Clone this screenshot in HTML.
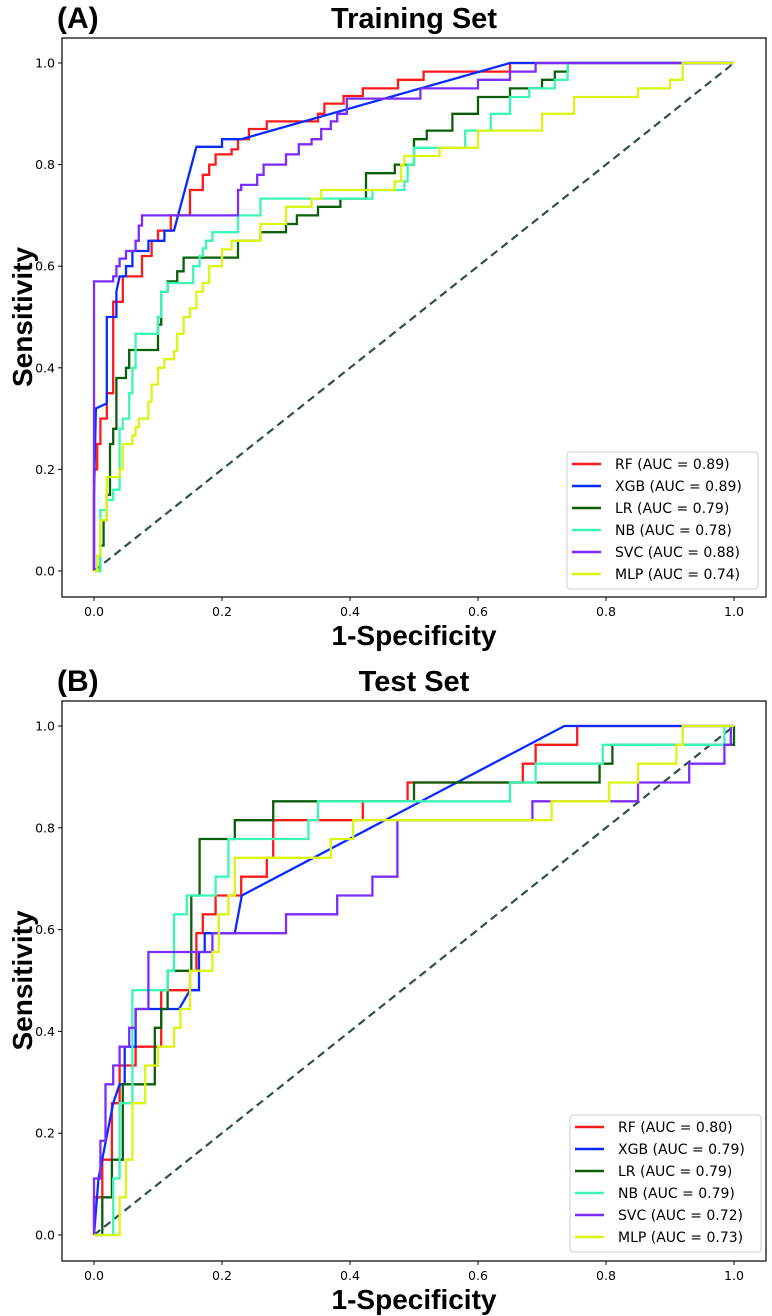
<!DOCTYPE html>
<html><head><meta charset="utf-8">
<style>
html,body{margin:0;padding:0;background:#fff;}
svg{display:block;font-family:"DejaVu Sans","Liberation Sans",sans-serif;}
</style></head>
<body>
<svg id="fig" width="772" height="1316" viewBox="0 0 772 1316" xmlns="http://www.w3.org/2000/svg"></svg>
<script>
// ---------- data ----------
const xTicks = [0.0, 0.2, 0.4, 0.6, 0.8, 1.0];
const yTicks = [0.0, 0.2, 0.4, 0.6, 0.8, 1.0];
const modelNames = ["RF", "XGB", "LR", "NB", "SVC", "MLP"];
const modelColors = ["#ff1a1a", "#0a2bff", "#0b5f0b", "#3cf7b4", "#7b2cff", "#daf514"];
const trainAUC = ["0.89", "0.89", "0.79", "0.78", "0.88", "0.74"];
const testAUC = ["0.80", "0.79", "0.79", "0.79", "0.72", "0.73"];

// training set ROC: step points [fpr, tpr] (horizontal then vertical), XGB as polyline
const trainRF = [[0,0.2],[0.005,0.25],[0.01,0.3],[0.02,0.35],[0.03,0.53],[0.045,0.58],[0.075,0.62],[0.09,0.65],[0.1,0.67],[0.12,0.7],[0.15,0.75],[0.17,0.78],[0.18,0.8],[0.19,0.82],[0.215,0.83],[0.225,0.85],[0.242,0.87],[0.27,0.885],[0.35,0.9],[0.36,0.92],[0.39,0.935],[0.42,0.95],[0.475,0.967],[0.515,0.983],[0.65,1],[1,1]];
const trainXGB = [[0,0],[0,0.15],[0.003,0.32],[0.02,0.33],[0.02,0.5],[0.035,0.5],[0.035,0.55],[0.04,0.58],[0.05,0.58],[0.05,0.6],[0.06,0.6],[0.06,0.63],[0.085,0.63],[0.085,0.65],[0.11,0.65],[0.11,0.67],[0.125,0.67],[0.16,0.835],[0.2,0.835],[0.2,0.85],[0.23,0.85],[0.65,1],[1,1]];
const trainLR = [[0.01,0.05],[0.015,0.1],[0.02,0.15],[0.025,0.25],[0.03,0.28],[0.035,0.38],[0.05,0.4],[0.055,0.435],[0.1,0.485],[0.105,0.55],[0.115,0.57],[0.13,0.59],[0.14,0.617],[0.225,0.65],[0.26,0.667],[0.3,0.683],[0.317,0.7],[0.35,0.717],[0.385,0.733],[0.425,0.783],[0.47,0.8],[0.5,0.85],[0.52,0.867],[0.56,0.9],[0.6,0.933],[0.65,0.95],[0.7,0.967],[0.72,0.983],[0.74,1],[1,1]];
const trainNB = [[0.01,0.12],[0.02,0.14],[0.03,0.16],[0.04,0.28],[0.045,0.3],[0.055,0.35],[0.06,0.4],[0.065,0.467],[0.1,0.5],[0.105,0.55],[0.115,0.567],[0.155,0.6],[0.165,0.62],[0.17,0.635],[0.175,0.65],[0.185,0.667],[0.225,0.7],[0.26,0.733],[0.435,0.75],[0.485,0.767],[0.49,0.8],[0.5,0.833],[0.58,0.867],[0.62,0.9],[0.65,0.933],[0.68,0.95],[0.72,0.967],[0.74,1],[1,1]];
const trainSVC = [[0,0.57],[0.03,0.58],[0.035,0.6],[0.04,0.615],[0.05,0.63],[0.065,0.65],[0.07,0.68],[0.075,0.7],[0.225,0.75],[0.23,0.76],[0.255,0.78],[0.265,0.8],[0.3,0.82],[0.32,0.84],[0.34,0.85],[0.355,0.87],[0.37,0.885],[0.38,0.9],[0.395,0.93],[0.51,0.95],[0.6,0.967],[0.65,0.983],[0.69,1],[1,1]];
const trainMLP = [[0.005,0.03],[0.01,0.1],[0.02,0.185],[0.04,0.2],[0.045,0.25],[0.06,0.267],[0.065,0.283],[0.07,0.3],[0.085,0.333],[0.09,0.367],[0.1,0.4],[0.11,0.417],[0.125,0.433],[0.13,0.467],[0.14,0.5],[0.15,0.517],[0.16,0.55],[0.17,0.567],[0.18,0.6],[0.2,0.633],[0.215,0.65],[0.26,0.683],[0.3,0.717],[0.34,0.733],[0.355,0.75],[0.47,0.767],[0.48,0.8],[0.485,0.817],[0.54,0.833],[0.6,0.867],[0.7,0.9],[0.75,0.933],[0.85,0.95],[0.9,0.967],[0.92,1],[1,1]];

// test set ROC
const testRF = [[0,0.074],[0.013,0.148],[0.028,0.259],[0.04,0.333],[0.065,0.37],[0.105,0.481],[0.15,0.519],[0.16,0.593],[0.17,0.63],[0.19,0.667],[0.23,0.704],[0.27,0.741],[0.28,0.815],[0.42,0.852],[0.49,0.889],[0.67,0.926],[0.69,0.963],[0.755,1],[1,1]];
const testXGB = [[0,0],[0.007,0.111],[0.03,0.259],[0.04,0.296],[0.048,0.296],[0.048,0.37],[0.065,0.37],[0.065,0.444],[0.133,0.444],[0.15,0.481],[0.164,0.481],[0.164,0.556],[0.173,0.556],[0.173,0.593],[0.22,0.593],[0.231,0.667],[0.735,1],[1,1]];
const testLR = [[0.013,0.074],[0.028,0.148],[0.045,0.296],[0.095,0.407],[0.105,0.444],[0.115,0.519],[0.152,0.667],[0.165,0.778],[0.22,0.815],[0.28,0.852],[0.5,0.889],[0.79,0.926],[0.81,0.963],[1,1]];
const testNB = [[0.03,0.111],[0.04,0.259],[0.06,0.481],[0.115,0.519],[0.125,0.63],[0.145,0.667],[0.19,0.704],[0.21,0.778],[0.335,0.815],[0.35,0.852],[0.65,0.889],[0.69,0.926],[0.795,0.963],[0.985,1],[1,1]];
const testSVC = [[0,0.111],[0.01,0.185],[0.018,0.296],[0.03,0.333],[0.04,0.37],[0.055,0.407],[0.065,0.444],[0.085,0.556],[0.185,0.593],[0.3,0.63],[0.38,0.667],[0.435,0.704],[0.474,0.815],[0.685,0.852],[0.85,0.889],[0.93,0.926],[0.985,0.963],[0.995,1],[1,1]];
const testMLP = [[0.04,0.074],[0.05,0.148],[0.06,0.259],[0.08,0.333],[0.1,0.37],[0.125,0.407],[0.135,0.444],[0.15,0.519],[0.185,0.556],[0.195,0.63],[0.21,0.667],[0.22,0.741],[0.37,0.778],[0.405,0.815],[0.715,0.852],[0.805,0.889],[0.85,0.926],[0.91,0.963],[0.92,1],[1,1]];

// ---------- drawing ----------
const NS = "http://www.w3.org/2000/svg";
const svg = document.getElementById("fig");
function mk(tag, attrs, parent, text) {
  const e = document.createElementNS(NS, tag);
  for (const k in attrs) e.setAttribute(k, attrs[k]);
  if (text !== undefined) e.textContent = text;
  (parent || svg).appendChild(e);
  return e;
}

function panel(cfg) {
  const g = mk("g", {});
  
  
  const X = f => cfg.x0 + (cfg.x1 - cfg.x0) * f;
  const Y = t => cfg.y0 + (cfg.y1 - cfg.y0) * t;
  const fr = mk("rect", {x: cfg.fl, y: cfg.ft, width: cfg.fr - cfg.fl, height: cfg.fb - cfg.ft, fill: "#fff", stroke: "#000", "stroke-width": 1.2}, g);
  
  
  xTicks.forEach(v => {
    const t = mk("line", {x1: X(v), x2: X(v), y1: cfg.fb, y2: cfg.fb + 4, stroke: "#000", "stroke-width": 1}, g);
    
    
    const l = mk("text", {x: X(v), y: cfg.fb + 19, "text-anchor": "middle", "font-size": 12.5, fill: "#000"}, g, v.toFixed(1));
    
    
  });
  yTicks.forEach(v => {
    const t = mk("line", {x1: cfg.fl - 4, x2: cfg.fl, y1: Y(v), y2: Y(v), stroke: "#000", "stroke-width": 1}, g);
    
    
    const l = mk("text", {x: cfg.fl - 7, y: Y(v) + 4.5, "text-anchor": "end", "font-size": 12.5, fill: "#000"}, g, v.toFixed(1));
    
    
  });
  const d = mk("line", {x1: X(0), y1: Y(0), x2: X(1), y2: Y(1), stroke: "#2f4f4f", "stroke-width": 2.2, "stroke-dasharray": "8,5"}, g);
  
  
  cfg.series.forEach((s, i) => {
    let pts = [];
    if (cfg.lineIdx.includes(i)) {
      pts = s.map(p => [X(p[0]), Y(p[1])]);
    } else {
      let cy = 0;
      pts.push([X(0), Y(0)]);
      s.forEach(p => {
        pts.push([X(p[0]), Y(cy)]);
        pts.push([X(p[0]), Y(p[1])]);
        cy = p[1];
      });
    }
    const pl = mk("polyline", {points: pts.map(p => p[0].toFixed(1) + "," + p[1].toFixed(1)).join(" "), fill: "none", stroke: modelColors[i], "stroke-width": 2.3}, g);
    
    
  });
  const lg = mk("g", {}, g);
  
  
  mk("rect", {x: cfg.lx, y: cfg.ly, width: 191, height: 137, rx: 3, fill: "#fff", "fill-opacity": 0.85, stroke: "#ccc", "stroke-width": 1}, lg);
  modelNames.forEach((n, i) => {
    const cy = cfg.ly + 12 + i * 22;
    const e = mk("g", {}, lg);
    
    
    mk("line", {x1: cfg.lx + 5, x2: cfg.lx + 34, y1: cy, y2: cy, stroke: modelColors[i], "stroke-width": 2.5}, e);
    mk("text", {x: cfg.lx + 48, y: cy + 5, "font-size": 14, fill: "#000"}, e, n + " (AUC = " + cfg.auc[i] + ")");
  });
  const tt = mk("text", {x: (cfg.fl + cfg.fr) / 2, y: cfg.ft - 10, "text-anchor": "middle", "font-size": 29, "font-weight": "bold", "font-family": "Liberation Sans, sans-serif"}, g, cfg.title);
  
  
  const pa = mk("text", {x: 57, y: cfg.ft - 10, "font-size": 30, "font-weight": "bold", "font-family": "Liberation Sans, sans-serif"}, g, cfg.tag);
  
  
  const xl = mk("text", {x: (cfg.fl + cfg.fr) / 2, y: cfg.fb + 48, "text-anchor": "middle", "font-size": 28, "font-weight": "bold", "font-family": "Liberation Sans, sans-serif"}, g, "1-Specificity");
  
  
  const ym = Y(0.5);
  const yl = mk("text", {x: 0, y: 0, transform: "translate(32," + ym + ") rotate(-90)", "text-anchor": "middle", "font-size": 28, "font-weight": "bold", "font-family": "Liberation Sans, sans-serif"}, g, "Sensitivity");
  
  
}

panel({name: "training-set-panel", title: "Training Set", tag: "(A)", fl: 62, fr: 766, ft: 38, fb: 597,
  x0: 94, x1: 734, y0: 571, y1: 63, lx: 567, ly: 452, auc: trainAUC, lineIdx: [1],
  series: [trainRF, trainXGB, trainLR, trainNB, trainSVC, trainMLP]});
panel({name: "test-set-panel", title: "Test Set", tag: "(B)", fl: 62, fr: 766, ft: 701, fb: 1261,
  x0: 94, x1: 734, y0: 1235, y1: 726, lx: 570, ly: 1115, auc: testAUC, lineIdx: [1],
  series: [testRF, testXGB, testLR, testNB, testSVC, testMLP]});
</script>
</body></html>
